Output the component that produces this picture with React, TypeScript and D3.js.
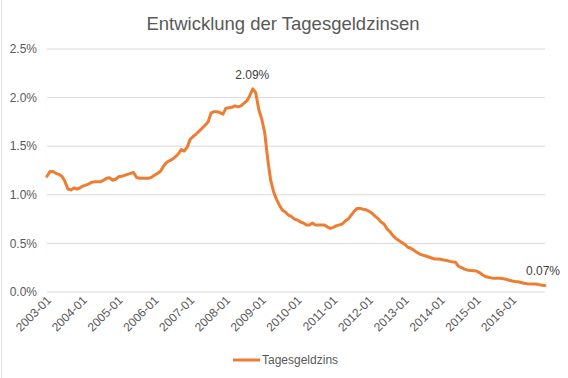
import React from "react";
import * as d3 from "d3";

const title = "Entwicklung der Tagesgeldzinsen";
const seriesName = "Tagesgeldzins";
const startYear = 2003;
const endYear = 2016;
const monthsPerYear = ["01","02","03","04","05","06","07","08","09","10","11","12"];
const yTicks = [0, 0.005, 0.01, 0.015, 0.02, 0.025];

// Monthly rates in percent, 2003-01 .. 2016-12
const rates2003 = [1.19, 1.24, 1.24, 1.22, 1.21, 1.19, 1.14, 1.06, 1.05, 1.07, 1.06, 1.07];
const rates2004 = [1.09, 1.10, 1.11, 1.13, 1.135, 1.135, 1.135, 1.15, 1.17, 1.175, 1.15, 1.16];
const rates2005 = [1.185, 1.19, 1.20, 1.21, 1.22, 1.23, 1.18, 1.17, 1.17, 1.17, 1.17, 1.18];
const rates2006 = [1.20, 1.22, 1.24, 1.29, 1.33, 1.35, 1.365, 1.39, 1.42, 1.465, 1.45, 1.49];
const rates2007 = [1.57, 1.60, 1.625, 1.655, 1.685, 1.715, 1.75, 1.84, 1.855, 1.855, 1.845, 1.83];
const rates2008 = [1.89, 1.895, 1.90, 1.915, 1.905, 1.915, 1.94, 1.965, 2.02, 2.09, 2.05, 1.88];
const rates2009 = [1.78, 1.64, 1.37, 1.15, 1.03, 0.95, 0.89, 0.84, 0.82, 0.79, 0.775, 0.75];
const rates2010 = [0.74, 0.72, 0.71, 0.69, 0.69, 0.71, 0.69, 0.69, 0.69, 0.69, 0.67, 0.655];
const rates2011 = [0.665, 0.68, 0.69, 0.70, 0.73, 0.75, 0.79, 0.83, 0.86, 0.86, 0.852, 0.846];
const rates2012 = [0.83, 0.81, 0.78, 0.755, 0.72, 0.70, 0.65, 0.62, 0.58, 0.55, 0.53, 0.51];
const rates2013 = [0.49, 0.46, 0.45, 0.43, 0.41, 0.39, 0.38, 0.37, 0.36, 0.35, 0.34, 0.34];
const rates2014 = [0.336, 0.33, 0.325, 0.315, 0.31, 0.305, 0.265, 0.25, 0.235, 0.225, 0.22, 0.218];
const rates2015 = [0.216, 0.2, 0.178, 0.16, 0.152, 0.145, 0.141, 0.141, 0.141, 0.136, 0.131, 0.12];
const rates2016 = [0.113, 0.108, 0.106, 0.098, 0.09, 0.085, 0.082, 0.082, 0.082, 0.076, 0.07, 0.068];

const allRates = [
  rates2003, rates2004, rates2005, rates2006, rates2007, rates2008, rates2009,
  rates2010, rates2011, rates2012, rates2013, rates2014, rates2015, rates2016,
];

const years = d3.range(startYear, endYear + 1);
const categories: string[] = [];
years.forEach((y) => monthsPerYear.forEach((m) => categories.push(`${y}-${m}`)));
const values: number[] = allRates.flat().map((v) => v / 100);
const data = categories.map((c, i) => ({ c, v: values[i] }));
const tickLabels = years.map((y) => `${y}-01`);

const W = 568;
const H = 378;
const left = 47;
const right = 545;
const top = 49;
const bottom = 292;

const FONT = "'Liberation Sans', Arial, sans-serif";
const TXT = "#595959";
const ORANGE = "#ED7D31";

export default function App() {
  const x = d3.scalePoint<string>().domain(categories).range([left, right]);
  const y = d3.scaleLinear().domain([0, 0.025]).range([bottom, top]);
  const line = d3
    .line<{ c: string; v: number }>()
    .x((d) => x(d.c) as number)
    .y((d) => y(d.v))
    .curve(d3.curveLinear);
  const pct = (v: number) => `${(v * 100).toFixed(1)}%`;
  const peak = data.reduce((a, b) => (b.v > a.v ? b : a));
  const last = data[data.length - 1];

  return (
    <svg
      width={W}
      height={H}
      style={{ position: "absolute", left: 0, top: 0, background: "#fff" }}
      fontFamily={FONT}
    >
      <rect x={0} y={0} width={W} height={H} fill="#fff" />
      <line x1={1.5} x2={1.5} y1={0} y2={H} stroke="#e3e3e3" />
      <text x={283} y={30} textAnchor="middle" fontSize={18.5} fill={TXT}>
        {title}
      </text>
      {yTicks.map((t) => (
        <g key={t}>
          <line x1={left} x2={right} y1={y(t)} y2={y(t)} stroke="#d9d9d9" strokeWidth={1} />
          <text x={37} y={y(t)} dy="0.35em" textAnchor="end" fontSize={12} fill={TXT}>
            {pct(t)}
          </text>
        </g>
      ))}
      {tickLabels.map((lab) => {
        const px = x(lab) as number;
        return (
          <text
            key={lab}
            transform={`translate(${px + 5},${301}) rotate(-45)`}
            textAnchor="end"
            fontSize={12}
            fill={TXT}
          >
            {lab}
          </text>
        );
      })}
      <path d={line(data) || ""} fill="none" stroke={ORANGE} strokeWidth={3} strokeLinejoin="round" strokeLinecap="round" />
      <text x={(x(peak.c) as number) - 0.5} y={y(peak.v) - 10} textAnchor="middle" fontSize={12} fill="#404040">
        {`${(peak.v * 100).toFixed(2)}%`}
      </text>
      <text x={(x(last.c) as number) - 19} y={y(last.v) - 10} textAnchor="start" fontSize={12} fill="#404040">
        {`${(last.v * 100).toFixed(2)}%`}
      </text>
      <line x1={233} x2={260} y1={360} y2={360} stroke={ORANGE} strokeWidth={3} />
      <text x={262} y={360} dy="0.35em" fontSize={12} fill={TXT}>
        {seriesName}
      </text>
    </svg>
  );
}
